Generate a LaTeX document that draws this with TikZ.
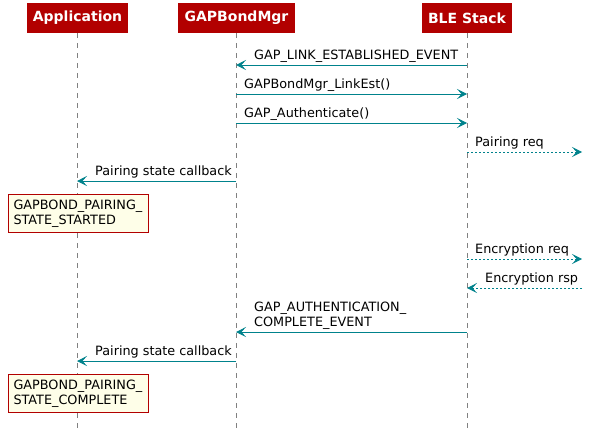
\documentclass[tikz,border=0pt]{standalone}
\usepackage{fontspec}
\setmainfont{DejaVu Sans}
\usetikzlibrary{arrows.meta}
\definecolor{hdr}{RGB}{178,0,0}
\definecolor{msgc}{RGB}{0,130,140}
\definecolor{notebg}{RGB}{254,254,232}
\definecolor{lifec}{RGB}{128,128,128}
\begin{document}
\begin{tikzpicture}[x=1pt,y=-1pt,
  actor/.style={fill=hdr,text=white,font=\bfseries\fontsize{14}{16}\selectfont,minimum height=30pt,inner sep=0pt},
  life/.style={lifec,line width=1pt,dash pattern=on 5pt off 5pt},
  msg/.style={msgc,line width=1pt,-{Stealth[length=10pt,width=10pt,inset=4.5pt]}},
  ext/.style={msg,dash pattern=on 2pt off 2pt},
  lbl/.style={anchor=base west,inner sep=0pt,font=\fontsize{12.8}{14.6}\selectfont},
  note/.style={draw=hdr,fill=notebg,line width=1pt,anchor=north west,minimum width=140pt,minimum height=38pt,
    text width=130pt,inner xsep=5pt,align=left,font=\fontsize{12.8}{14.6}\selectfont}]
  \useasboundingbox (0,0) rectangle (593,439);
  \node[actor,minimum width=101pt] (app) at (77.5,18) {Application};
  \node[actor,minimum width=117pt] (gbm) at (236.5,18) {GAPBondMgr};
  \node[actor,minimum width=90pt] (ble) at (467,18) {BLE Stack};
  \foreach \n in {app,gbm,ble}
    \draw[life] (\n.south) -- (\n.south |- 0,428);
  \foreach \r/\y in {1/65,2/94,3/123,4/152,5/181,7/259,8/288,9/332,10/361}{
    \coordinate (a\r) at (77,\y);
    \coordinate (g\r) at (236,\y);
    \coordinate (b\r) at (467,\y);
    \coordinate (x\r) at (582,\y);
  }
  \draw[msg](b1)--(g1);
  \node[lbl] (m1) at ([shift={(18,-5.5)}]g1) {GAP\_LINK\_ESTABLISHED\_EVENT};
  \draw[msg](g2)--(b2);
  \node[lbl] (m2) at ([shift={(8,-5.5)}]g2) {GAPBondMgr\_LinkEst()};
  \draw[msg](g3)--(b3);
  \node[lbl] (m3) at ([shift={(8,-5.5)}]g3) {GAP\_Authenticate()};
  \draw[ext](b4)--(x4);
  \node[lbl] (m4) at ([shift={(8,-5.5)}]b4) {Pairing req};
  \draw[msg](g5)--(a5);
  \node[lbl] (m5) at ([shift={(18,-5.5)}]a5) {Pairing state callback};
  \node[note] (n1) at (8,194) {GAPBOND\_PAIRING\_\\STATE\_STARTED};
  \draw[ext](b7)--(x7);
  \node[lbl] (m7) at ([shift={(8,-5.5)}]b7) {Encryption req};
  \draw[ext](x8)--(b8);
  \node[lbl] (m8) at ([shift={(18,-5.5)}]b8) {Encryption rsp};
  \draw[msg](b9)--(g9);
  \node[lbl,anchor=south west,align=left] (m9) at ([shift={(18,-2.5)}]g9) {GAP\_AUTHENTICATION\_\\COMPLETE\_EVENT};
  \draw[msg](g10)--(a10);
  \node[lbl] (m10) at ([shift={(18,-5.5)}]a10) {Pairing state callback};
  \node[note] (n2) at (8,374) {GAPBOND\_PAIRING\_\\STATE\_COMPLETE};
\end{tikzpicture}
\end{document}
